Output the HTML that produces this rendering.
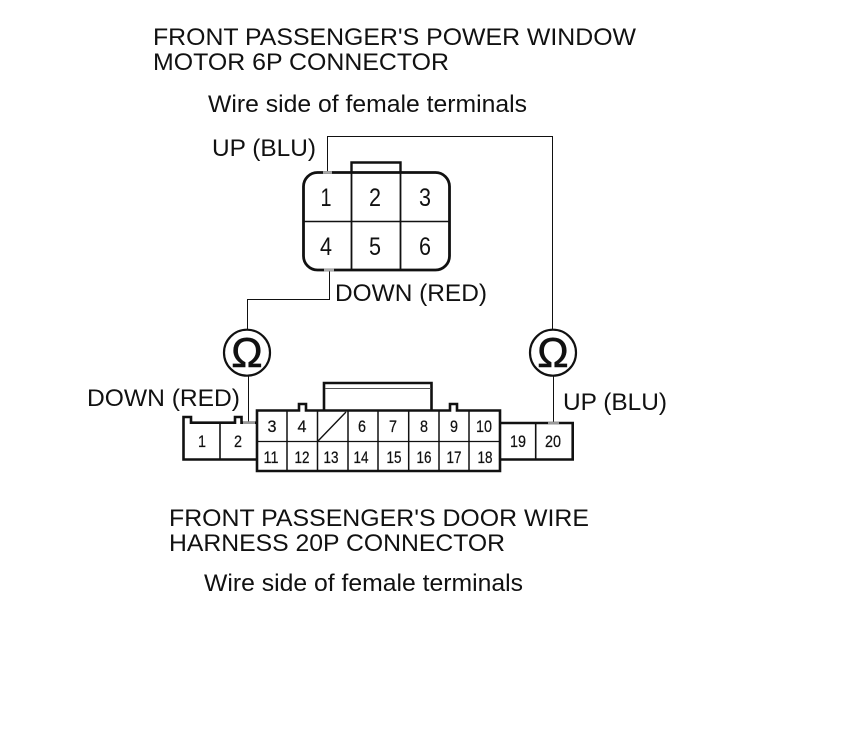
<!DOCTYPE html>
<html><head><meta charset="utf-8"><style>
html,body{margin:0;padding:0;background:#fff;width:860px;height:735px;overflow:hidden}
svg{display:block}
text{font-family:"Liberation Sans",sans-serif;fill:#111}
.t{font-size:24px}
.n{font-size:25px;text-anchor:middle}
.s{font-size:17px;text-anchor:middle;stroke:#111;stroke-width:.25px}
.o{font-size:42px;text-anchor:middle;stroke:#111;stroke-width:.6px}
</style></head><body>
<svg width="860" height="735" viewBox="0 0 860 735" xmlns="http://www.w3.org/2000/svg">
<rect width="860" height="735" fill="#fff"/>
<text class="t" x="153" y="45" textLength="483" lengthAdjust="spacingAndGlyphs">FRONT PASSENGER'S POWER WINDOW</text>
<text class="t" x="153" y="70" textLength="296" lengthAdjust="spacingAndGlyphs">MOTOR 6P CONNECTOR</text>
<text class="t" x="208" y="112" textLength="319" lengthAdjust="spacingAndGlyphs">Wire side of female terminals</text>
<text class="t" x="212" y="156" textLength="104" lengthAdjust="spacingAndGlyphs">UP (BLU)</text>
<text class="t" x="335" y="301" textLength="152" lengthAdjust="spacingAndGlyphs">DOWN (RED)</text>
<text class="t" x="87" y="406" textLength="153" lengthAdjust="spacingAndGlyphs">DOWN (RED)</text>
<text class="t" x="563" y="410" textLength="104" lengthAdjust="spacingAndGlyphs">UP (BLU)</text>
<text class="t" x="169" y="526" textLength="420" lengthAdjust="spacingAndGlyphs">FRONT PASSENGER'S DOOR WIRE</text>
<text class="t" x="169" y="551" textLength="336" lengthAdjust="spacingAndGlyphs">HARNESS 20P CONNECTOR</text>
<text class="t" x="204" y="591" textLength="319" lengthAdjust="spacingAndGlyphs">Wire side of female terminals</text>

<g fill="none" stroke="#111" stroke-width="1">
<path d="M327.5 172V136.500H552.500V330"/>
<path d="M329.500 270V299.500H247.500V330"/>
<path d="M248.500 376V423"/>
<path d="M553.500 376V423"/>
</g>
<g fill="none" stroke="#111" stroke-width="2.200">
<circle cx="247" cy="352.700" r="23"/>
<circle cx="553" cy="352.700" r="23"/>
</g>
<text class="o" x="247" y="367">Ω</text>
<text class="o" x="553" y="367">Ω</text>

<!-- 6P -->
<g fill="none" stroke="#111">
<path d="M351.500 172V162.500H400.500V172" stroke-width="2.400"/>
<rect x="303.500" y="172.500" width="146" height="97.500" rx="14" stroke-width="2.800"/>
<path d="M351.500 172V270M400.500 172V270" stroke-width="1.800"/>
<path d="M304 221.500H449" stroke-width="1.500"/>
</g>
<path d="M323 172.500H332M324 270H334" stroke="#aaa" stroke-width="2.800"/>
<g>
<text class="n" x="326" y="206" textLength="11" lengthAdjust="spacingAndGlyphs">1</text><text class="n" x="375" y="206" textLength="12" lengthAdjust="spacingAndGlyphs">2</text><text class="n" x="425" y="206" textLength="12" lengthAdjust="spacingAndGlyphs">3</text>
<text class="n" x="326" y="255" textLength="12" lengthAdjust="spacingAndGlyphs">4</text><text class="n" x="375" y="255" textLength="12" lengthAdjust="spacingAndGlyphs">5</text><text class="n" x="425" y="255" textLength="12" lengthAdjust="spacingAndGlyphs">6</text>
</g>

<!-- 20P -->
<g fill="none" stroke="#111">
<path d="M324 410V383H431.500V410" stroke-width="2.600"/>
<path d="M325 388.500H431" stroke-width="1" stroke="#555"/>
<path d="M257 422.700H241.500V417H235V422.700H191V417H183.500V459.500H257" stroke-width="2.600"/>
<path d="M500 423H572.700V459.500H500" stroke-width="2.600"/>
<path d="M257 410.500H299V404H306V410.500H450V404H457V410.500H500V471H257Z" stroke-width="2.600"/>
<path d="M220 423V459M535.700 423V459" stroke-width="1.600"/>
<path d="M257 441.500H500" stroke-width="1.300"/>
<path d="M287 411V471M317.500 411V471M348 411V471M378 411V471M408.700 411V471M439 411V471M469 411V471" stroke-width="1.500"/>
<path d="M318 441L346 412" stroke-width="1.400"/>
</g>
<path d="M243 422.700H255M548 423H559" stroke="#999" stroke-width="2.600"/>
<g>
<text class="s" x="202" y="447" textLength="8" lengthAdjust="spacingAndGlyphs">1</text><text class="s" x="238" y="447" textLength="8" lengthAdjust="spacingAndGlyphs">2</text>
<text class="s" x="272" y="432" textLength="9" lengthAdjust="spacingAndGlyphs">3</text><text class="s" x="302" y="432" textLength="9" lengthAdjust="spacingAndGlyphs">4</text>
<text class="s" x="362" y="432" textLength="8" lengthAdjust="spacingAndGlyphs">6</text><text class="s" x="393" y="432" textLength="8" lengthAdjust="spacingAndGlyphs">7</text><text class="s" x="424" y="432" textLength="8" lengthAdjust="spacingAndGlyphs">8</text><text class="s" x="454" y="432" textLength="8" lengthAdjust="spacingAndGlyphs">9</text><text class="s" x="484" y="432" textLength="16" lengthAdjust="spacingAndGlyphs">10</text>
<text class="s" x="271" y="463" textLength="15" lengthAdjust="spacingAndGlyphs">11</text><text class="s" x="302" y="463" textLength="15" lengthAdjust="spacingAndGlyphs">12</text><text class="s" x="331" y="463" textLength="15" lengthAdjust="spacingAndGlyphs">13</text><text class="s" x="361" y="463" textLength="15" lengthAdjust="spacingAndGlyphs">14</text><text class="s" x="394" y="463" textLength="15" lengthAdjust="spacingAndGlyphs">15</text><text class="s" x="424" y="463" textLength="15" lengthAdjust="spacingAndGlyphs">16</text><text class="s" x="454" y="463" textLength="15" lengthAdjust="spacingAndGlyphs">17</text><text class="s" x="485" y="463" textLength="15" lengthAdjust="spacingAndGlyphs">18</text>
<text class="s" x="518" y="447" textLength="16" lengthAdjust="spacingAndGlyphs">19</text><text class="s" x="553" y="447" textLength="16" lengthAdjust="spacingAndGlyphs">20</text>
</g>
</svg>
</body></html>
